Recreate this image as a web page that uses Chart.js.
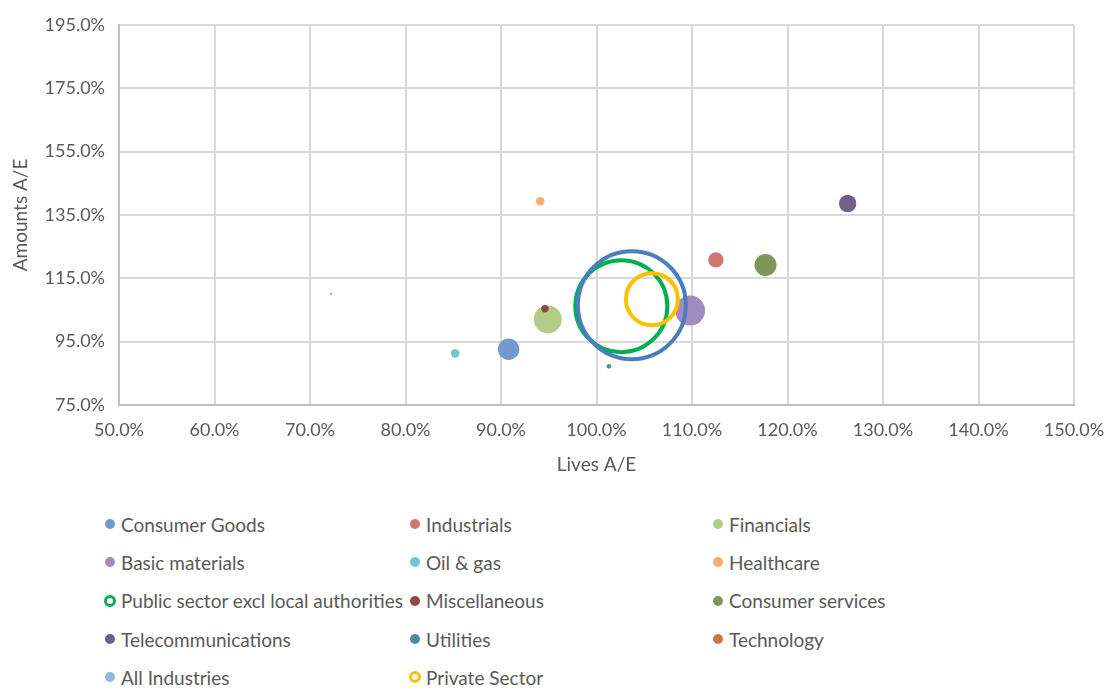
<!DOCTYPE html>
<html>
<head>
<meta charset="utf-8">
<script src="https://cdn.jsdelivr.net/npm/chart.js"></script>
<style>
  body { margin: 0; background: #fff; font-family: Lato, "Noto Sans", sans-serif; }
  #wrap { position: absolute; left: 0; top: 0; width: 1111px; height: 480px; }
  #legend { position: absolute; left: 105px; top: 505px; display: grid;
            grid-template-columns: 305px 303px 300px; color: #595959; font-size: 19px; }
  .item { height: 38.3px; display: flex; align-items: center; white-space: nowrap; }
  .mk { width: 10px; height: 10px; border-radius: 50%; margin-right: 6px; box-sizing: border-box; flex: none; }
</style>
</head>
<body>
<div id="wrap"><canvas id="myChart" width="1111" height="480"></canvas></div>
<div id="legend"></div>
<script>
// series (one point each): Lives A/E %, Amounts A/E %, relative bubble size
const names = ['Consumer Goods', 'Industrials', 'Financials', 'Basic materials', 'Oil & gas', 'Healthcare',
  'Public sector excl local authorities', 'Miscellaneous', 'Consumer services', 'Telecommunications',
  'Utilities', 'Technology', 'All Industries', 'Private Sector'];
const livesAE   = [90.8, 112.5, 94.9, 109.8, 85.2, 94.1, 102.6, 94.6, 117.7, 126.3, 101.3, 72.2, 103.7, 105.8];
const amountsAE = [92.6, 120.8, 102.0, 104.8, 91.3, 139.3, 106.2, 105.4, 119.2, 138.6, 87.2, 110.1, 106.5, 108.4];
const bubbleSize = [3.93, 2.03, 6.72, 7.72, 0.63, 0.63, 72.6, 0.47, 4.15, 2.6, 0.18, 0.034, 100, 23.2];

const fills = ['#7499cc', '#d07673', '#b5cc87', '#a28bbe', '#74c4d7', '#f8ac74', '#00b050', '#8c4a44',
  '#7e9658', '#705f88', '#528a99', '#c87a45', '#97b5dd', '#ffc000'];
const ringColor = { 'Public sector excl local authorities': '#00b050', 'All Industries': '#4a7ebf', 'Private Sector': '#ffc000' };
const legendRing = { 'Public sector excl local authorities': true, 'Private Sector': true };

const K = 5.4;
const datasets = names.map((n, i) => {
  const ring = ringColor[n];
  return {
    label: n,
    data: [{ x: livesAE[i], y: amountsAE[i], r: K * Math.sqrt(bubbleSize[i]) }],
    backgroundColor: ring ? 'rgba(0,0,0,0)' : fills[i],
    borderColor: ring || fills[i],
    borderWidth: ring ? 4 : 0,
    order: -i   // later series drawn on top
  };
});

const grey = '#595959';
const pct = v => v.toFixed(1) + '%';
const font = { size: 18, family: 'Lato' };

new Chart(document.getElementById('myChart'), {
  type: 'bubble',
  data: { datasets },
  options: {
    responsive: false,
    animation: false,
    layout: { autoPadding: false, padding: { left: 5, top: 22, right: 37, bottom: 0 } },
    plugins: { legend: { display: false }, tooltip: { enabled: false } },
    scales: {
      x: {
        type: 'linear', min: 50, max: 150,
        ticks: { stepSize: 10, callback: pct, color: grey, font, padding: 14 },
        grid: { color: '#d9d9d9', lineWidth: 2, drawTicks: false },
        border: { color: '#bfbfbf', width: 2 },
        title: { display: true, text: 'Lives A/E', color: grey, font: { size: 19, family: 'Lato' } },
        afterFit: s => { s.height = 75; s.paddingRight = 0; s.paddingLeft = 0; }
      },
      y: {
        type: 'linear', min: 75, max: 195,
        ticks: { stepSize: 20, callback: pct, color: grey, font, padding: 14 },
        grid: { color: '#d9d9d9', lineWidth: 2, drawTicks: false },
        border: { color: '#bfbfbf', width: 2 },
        title: { display: true, text: 'Amounts A/E', color: grey, font: { size: 19, family: 'Lato' } },
        afterFit: s => { s.width = 114; }
      }
    }
  }
});

// legend in three columns, same order as the series
const leg = document.getElementById('legend');
names.forEach((n, i) => {
  const it = document.createElement('div');
  it.className = 'item';
  const mk = document.createElement('span');
  mk.className = 'mk';
  if (legendRing[n]) { mk.style.border = '3px solid ' + fills[i]; mk.style.width = '12px'; mk.style.height = '12px'; mk.style.marginLeft = '-1px'; mk.style.marginRight = '5px'; }
  else mk.style.background = fills[i];
  it.appendChild(mk);
  it.appendChild(document.createTextNode(n));
  leg.appendChild(it);
});
</script>
</body>
</html>
